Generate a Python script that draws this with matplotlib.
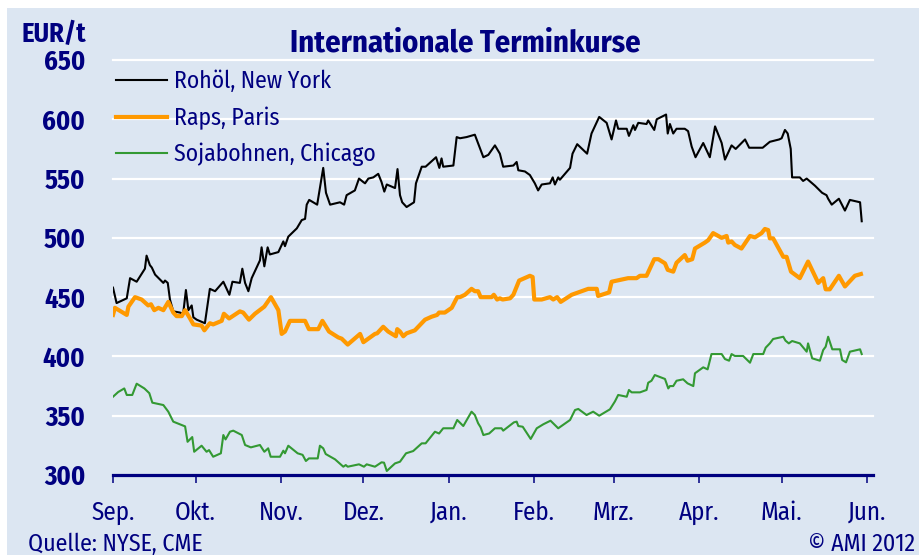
import numpy as np
import matplotlib
matplotlib.use('Agg')
import matplotlib.pyplot as plt
from matplotlib.patches import Rectangle

# Tage seit 1. Sep. 2011
monate = ['Sep.', 'Okt.', 'Nov.', 'Dez.', 'Jan.', 'Feb.', 'Mrz.', 'Apr.', 'Mai.', 'Jun.']
monat_tage = [0, 30, 61, 91, 122, 153, 182, 213, 243, 274]
y_ticks = [300, 350, 400, 450, 500, 550, 600, 650]

rohoel_tag = [0, 1.3, 5.0, 6.2, 8.6, 11.6, 12.2, 13.4, 14.1, 15.3, 18.3, 18.9, 19.9, 20.7, 21.9,
              24.3, 25.5, 26.5, 27.4, 28.6, 29.2, 30.4, 33.4, 35.2, 37.1, 40.1, 42.3, 43.4, 46.1,
              47.0, 48.0, 49.2, 50.4, 53.4, 54.0, 55.0, 56.2, 57.0, 60.1, 61.9, 62.5, 63.7, 66.8,
              68.6, 69.8, 70.4, 71.3, 74.2, 76.4, 77.4, 78.9, 82.5, 84.0, 84.9, 87.9, 89.4, 91.0,
              91.6, 92.8, 94.6, 96.4, 97.6, 98.6, 99.5, 102.5, 103.4, 104.3, 105.1, 106.7, 109.4,
              110.1, 112.2, 113.6, 117.4, 118.6, 119.4, 120.0, 123.7, 124.9, 126.1, 128.5, 131.5,
              134.6, 136.4, 138.8, 140.6, 141.8, 145.5, 146.7, 147.3, 149.7, 151.5, 153.3, 154.5,
              155.8, 158.8, 159.8, 160.6, 161.8, 162.4, 166.1, 167.0, 168.7, 172.3, 173.9, 174.5,
              176.7, 179.4, 181.2, 182.8, 183.6, 186.7, 187.5, 189.1, 189.7, 190.9, 193.9, 194.5,
              196.7, 197.6, 201.0, 201.6, 202.4, 203.6, 204.8, 207.8, 209.0, 210.3, 211.7, 214.5,
              216.9, 218.8, 221.2, 222.4, 224.8, 226.3, 229.7, 231.2, 236.1, 238.7, 242.1, 243.0,
              244.2, 245.2, 246.3, 246.8, 249.6, 250.8, 252.1, 255.1, 257.7, 259.3, 259.9, 261.2,
              263.8, 266.0, 267.8, 271.5, 272.1]
rohoel = [458, 445, 449, 466, 463, 474, 485, 477, 475, 469, 462, 464, 462, 448, 438,
          437, 436, 456, 439, 443, 433, 431, 428, 457, 455, 463, 452, 463, 462,
          474, 462, 455, 466, 481, 492, 476, 492, 486, 488, 497, 493, 501, 508,
          515, 516, 528, 532, 528, 559, 538, 528, 530, 528, 536, 540, 550, 547,
          546, 550, 551, 554, 547, 539, 545, 542, 558, 536, 530, 526, 530,
          546, 560, 560, 568, 559, 567, 560, 561, 585, 584, 585, 587,
          568, 570, 578, 571, 560, 561, 564, 557, 556, 553, 546, 540,
          545, 546, 551, 545, 551, 549, 559, 571, 579, 571, 588, 591,
          602, 597, 583, 599, 592, 592, 586, 595, 591, 597, 596, 599,
          591, 600, 604, 588, 596, 588, 592, 592, 590, 577, 568, 580,
          568, 594, 580, 566, 578, 575, 583, 576, 576, 581, 583, 584,
          591, 588, 575, 551, 551, 548, 550, 544, 538, 536, 533, 528,
          533, 523, 532, 530, 514]

raps_tag = [0, 0.7, 5.0, 5.6, 8.0, 10.4, 12.8, 13.8, 15.0, 16.5, 18.3, 20.1, 21.9, 23.1, 25.0,
            26.2, 28.0, 29.2, 32.2, 33.2, 35.2, 36.4, 39.5, 40.3, 42.2, 46.1, 47.3, 49.4, 51.6,
            55.0, 57.4, 60.1, 61.3, 62.5, 64.3, 69.8, 71.2, 74.6, 76.1, 78.5, 81.9, 83.1, 85.3,
            89.8, 91.0, 95.2, 96.0, 98.2, 100.0, 102.8, 103.3, 104.3, 105.5, 106.7, 109.7, 113.4,
            115.8, 117.8, 118.5, 120.6, 123.1, 125.1, 126.1, 127.9, 130.3, 131.5, 132.7, 133.6,
            137.6, 138.4, 139.6, 140.6, 141.6, 144.3, 145.5, 147.6, 151.5, 152.5, 153.1, 155.8,
            158.8, 160.0, 161.4, 162.7, 166.7, 169.1, 172.7, 175.8, 176.3, 180.3, 181.2, 182.4,
            187.2, 190.3, 191.5, 193.9, 196.7, 198.2, 200.6, 201.6, 203.6, 204.8, 207.8, 208.8,
            210.5, 211.5, 215.1, 216.3, 218.1, 221.2, 223.0, 223.6, 224.8, 226.0, 228.4, 231.5,
            233.3, 235.7, 236.9, 238.1, 238.7, 239.9, 243.6, 244.8, 246.4, 249.6, 252.6, 256.3,
            258.1, 259.0, 260.5, 263.8, 266.0, 269.6, 271.8]
raps = [435, 441, 435, 442, 450, 448, 443, 444, 439, 441, 439, 446, 437, 434, 434,
        439, 432, 427, 426, 422, 428, 427, 430, 436, 432, 438, 437, 431, 436,
        442, 450, 439, 419, 421, 430, 430, 423, 423, 430, 421, 416, 415, 410,
        419, 412, 419, 419.5, 425, 421, 417, 423, 421, 417, 419.5, 422, 431,
        433.5, 435, 437, 437, 441, 450, 450, 452, 457, 455, 455, 450,
        450, 452, 448, 449, 448, 449, 452, 464, 468, 467, 448, 448,
        450, 448, 450, 446, 452, 454, 457, 457, 451, 454, 463, 463.6,
        466, 466, 468, 468, 482, 482, 478.5, 473, 471.5, 479, 485.5, 480.7,
        482, 491, 496, 498, 504, 500, 501.6, 496, 497, 494, 491, 501.6,
        500.4, 504, 507.5, 506.6, 499.6, 499.6, 484, 484, 471.5, 466, 480, 462,
        466, 456.6, 456.6, 468, 459, 468, 469.5]

soja_tag = [0, 1.9, 4.1, 5.0, 7.0, 8.6, 11.4, 13.2, 14.3, 18.3, 20.1, 21.9, 26.2, 27.1, 28.8,
            29.5, 32.2, 34.0, 34.9, 36.4, 39.2, 40.1, 40.9, 42.5, 43.7, 46.8, 48.0, 50.1, 53.4,
            55.0, 56.4, 57.3, 60.7, 61.9, 62.5, 63.7, 67.1, 68.9, 70.1, 71.2, 74.4, 75.2, 76.4,
            77.3, 80.7, 83.7, 84.6, 85.3, 89.4, 91.2, 92.2, 95.2, 97.6, 98.5, 99.5, 102.5, 104.3,
            106.5, 109.1, 112.2, 113.6, 117.0, 118.5, 120.0, 123.7, 125.1, 127.3, 130.3, 131.5,
            132.7, 133.6, 134.6, 136.7, 138.8, 141.2, 141.8, 145.7, 146.7, 147.3, 148.9, 151.8,
            154.0, 156.4, 159.0, 161.8, 166.1, 167.9, 169.1, 172.1, 174.5, 176.7, 180.6, 182.4,
            183.6, 186.7, 187.5, 188.5, 191.5, 193.9, 194.5, 195.7, 196.9, 200.6, 201.8, 202.4,
            203.6, 204.8, 207.2, 208.8, 210.9, 211.5, 214.5, 216.1, 217.5, 221.2, 222.4, 223.9,
            224.8, 226.0, 229.0, 231.5, 232.7, 236.3, 237.2, 238.7, 239.9, 243.6, 244.4, 245.6,
            246.8, 249.6, 252.1, 252.6, 254.1, 256.9, 258.1, 259.0, 259.9, 261.4, 264.2, 265.0,
            266.4, 267.8, 271.5, 272.1]
soja = [366, 370, 373, 367.5, 367.5, 377, 373, 369, 361, 359, 353.4, 345, 341, 328, 332,
        319.6, 324.7, 319.6, 321, 315.4, 318.3, 333.7, 330, 336.5, 337.4, 333.7, 325.3, 323.3, 325.3,
        319.6, 322.5, 315.4, 315.4, 320.5, 318.3, 324.7, 318.3, 317, 311.8, 314, 314, 324.7, 322.5,
        317.7, 313.2, 307, 308.4, 307, 309, 307, 309, 307, 310.7, 310.4, 303.4, 309.8, 311.2,
        318.3, 320.2, 326.7, 326.7, 336.5, 335, 339.4, 339.4, 346.4, 341.3, 353.4, 350.6,
        343.6, 340.2, 333.7, 335, 339.4, 339.4, 337.4, 344.4, 345, 341.3, 340.7, 330.4,
        339.4, 342.8, 345.8, 339.4, 346.4, 354.8, 355.7, 350.6, 353.4, 350, 355.4, 362,
        367.5, 366, 371.7, 369.7, 369.7, 371.7, 377.8, 379.5, 384.3, 381, 373, 375,
        375, 379.5, 380.7, 377.3, 375, 385.8, 390.8, 389.1, 402, 402, 397.8, 396.4,
        402, 400.4, 400.4, 394.7, 402, 402, 407.4, 411, 414.7, 416.6, 413.3, 411,
        413, 411, 404, 411, 398.4, 396.4, 405.4, 408.2, 416.6, 406, 406, 397,
        395, 404, 406, 402]

navy = '#000080'
bg = '#DCE6F2'
plt.rcParams['font.family'] = ['Fira Sans Condensed', 'DejaVu Sans']

fig = plt.figure(figsize=(9.2, 5.55), dpi=100)
fig.patch.set_facecolor('white')
fig.patches.append(Rectangle((7/920, 0), 1, 547/555, transform=fig.transFigure,
                             facecolor=bg, edgecolor='none', zorder=-10))

ax = fig.add_axes([113/920, 1 - 475/555, 760/920, 415/555])
ax.set_facecolor('none')
ax.set_xlim(0, 276.2)
ax.set_ylim(300, 650)

for y in y_ticks[1:]:
    ax.axhline(y, color='white', lw=1.6, zorder=1, clip_on=False)

ax.plot(rohoel_tag, rohoel, color='black', lw=1.5, label='Rohöl, New York', zorder=3)
ax.plot(raps_tag, raps, color='#FF9900', lw=3.0, label='Raps, Paris', zorder=3,
        solid_joinstyle='round')
ax.plot(soja_tag, soja, color='#339933', lw=1.5, label='Sojabohnen, Chicago', zorder=3)

for s in ['top', 'right', 'left']:
    ax.spines[s].set_visible(False)
ax.spines['bottom'].set_color(navy)
ax.spines['bottom'].set_linewidth(2.3)

ax.set_xticks(monat_tage)
ax.set_xticklabels(monate)
ax.set_yticks(y_ticks)
ax.tick_params(axis='x', direction='out', length=6, width=1.1, color=navy,
               labelcolor=navy, labelsize=18, pad=12)
ax.tick_params(axis='y', length=0, labelcolor=navy, labelsize=19, pad=20)
for lab in ax.get_yticklabels():
    lab.set_fontweight('bold')

leg = ax.legend(loc='upper left', bbox_to_anchor=(116/920, 1 - 70/555),
                bbox_transform=fig.transFigure, frameon=False, fontsize=17,
                borderpad=0, borderaxespad=0, handlelength=2.15, handletextpad=0.3,
                labelspacing=0.56)
for t in leg.get_texts():
    t.set_color(navy)

fig.text(465/920, 1 - 52/555, 'Internationale Terminkurse', ha='center', va='baseline',
         fontsize=22, fontweight='bold', color=navy)
fig.text(22/920, 1 - 42/555, 'EUR/t', ha='left', va='baseline',
         fontsize=19, fontweight='bold', color=navy)
fig.text(28/920, 1 - 551/555, 'Quelle: NYSE, CME', ha='left', va='baseline',
         fontsize=17.2, color=navy)
fig.text(915/920, 1 - 551/555, '© AMI 2012', ha='right', va='baseline',
         fontsize=17.2, color=navy)

plt.savefig('out.png', dpi=100, facecolor=fig.get_facecolor())
plt.close()
